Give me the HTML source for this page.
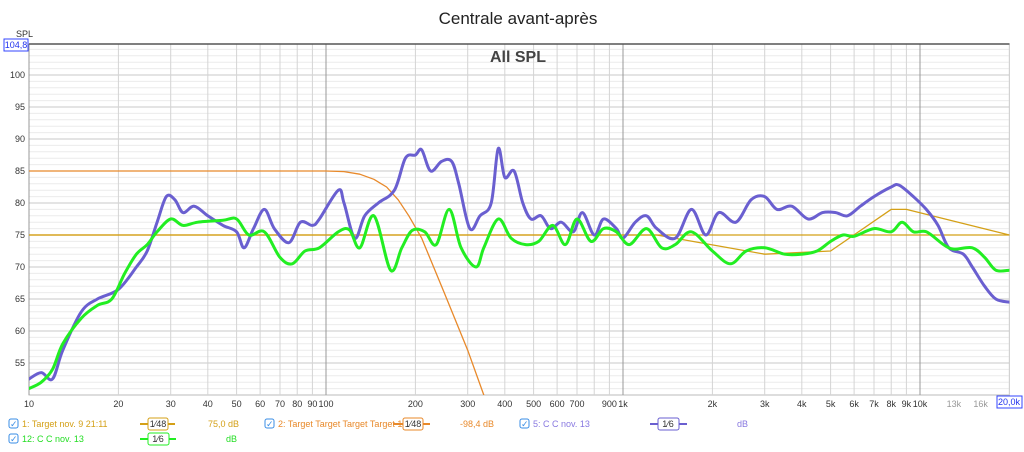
<!DOCTYPE html>
<html><head><meta charset="utf-8"><style>
body{margin:0;background:#fff;font-family:"Liberation Sans",sans-serif;}
svg text{font-family:"Liberation Sans",sans-serif;}
</style></head><body>
<svg id="chart" width="1024" height="447" xmlns="http://www.w3.org/2000/svg">
<text x="518" y="24" font-size="17" text-anchor="middle" fill="#222">Centrale avant-après</text>
<text x="16" y="37" font-size="9" fill="#333">SPL</text>
<rect x="4" y="39" width="24" height="12" fill="#fff" stroke="#3344ff"/>
<text x="16" y="48" font-size="9" fill="#2233ee" text-anchor="middle">104,8</text>
<g id="grid"></g><g id="series"></g><g id="axes"></g>
<text x="518" y="62" font-size="16" font-weight="bold" text-anchor="middle" fill="#444">All SPL</text>
<rect x="997" y="396" width="25" height="12" fill="#fff" stroke="#3344ff"/>
<text x="1009" y="405" font-size="9" fill="#2233ee" text-anchor="middle">20,0k</text>
<g font-size="9">
 <g>
  <rect x="9" y="419" width="9" height="9" rx="2" fill="#fff" stroke="#3a8ee6"/><text x="10" y="427" fill="#3a8ee6" font-size="9">✓</text>
  <text x="22" y="427" fill="#d4a017">1: Target nov. 9 21:11</text>
  <line x1="140" y1="424" x2="175" y2="424" stroke="#d4a017" stroke-width="2"/><rect x="148" y="418" width="20" height="12" rx="2" fill="#fff" stroke="#d4a017"/><text x="158" y="427" text-anchor="middle" fill="#333">1⁄48</text>
  <text x="208" y="427" fill="#d4a017">75,0 dB</text></g>
 <g>
  <rect x="265" y="419" width="9" height="9" rx="2" fill="#fff" stroke="#3a8ee6"/><text x="266" y="427" fill="#3a8ee6">✓</text>
  <text x="278" y="427" fill="#e8892a">2: Target Target Target Target 1</text>
  <line x1="393" y1="424" x2="430" y2="424" stroke="#e8892a" stroke-width="2"/><rect x="403" y="418" width="20" height="12" rx="2" fill="#fff" stroke="#e8892a"/><text x="413" y="427" text-anchor="middle" fill="#333">1⁄48</text>
  <text x="460" y="427" fill="#e8892a">-98,4 dB</text></g>
 <g>
  <rect x="520" y="419" width="9" height="9" rx="2" fill="#fff" stroke="#3a8ee6"/><text x="521" y="427" fill="#3a8ee6">✓</text>
  <text x="533" y="427" fill="#8878e0">5: C C nov. 13</text>
  <line x1="650" y1="424" x2="687" y2="424" stroke="#6a5fd0" stroke-width="2"/><rect x="658" y="418" width="21" height="12" rx="2" fill="#fff" stroke="#6a5fd0"/><text x="668" y="427" text-anchor="middle" fill="#333">1⁄6</text>
  <text x="737" y="427" fill="#8878e0">dB</text></g>
 <g>
  <rect x="9" y="434" width="9" height="9" rx="2" fill="#fff" stroke="#3a8ee6"/><text x="10" y="442" fill="#3a8ee6">✓</text>
  <text x="22" y="442" fill="#22dd22">12: C C nov. 13</text>
  <line x1="140" y1="439" x2="176" y2="439" stroke="#22ee22" stroke-width="2"/><rect x="148" y="433" width="21" height="12" rx="2" fill="#fff" stroke="#22ee22"/><text x="158" y="442" text-anchor="middle" fill="#333">1⁄6</text>
  <text x="226" y="442" fill="#22dd22">dB</text></g>
</g>
</svg>
<script>
const xTickFreqs=[10,20,30,40,50,60,70,80,90,100,200,300,400,500,600,700,900,1000,2000,3000,4000,5000,6000,7000,8000,9000,10000,13000,16000];
const xTickLabels=["10","20","30","40","50","60","70","80","90","100","200","300","400","500","600","700","900","1k","2k","3k","4k","5k","6k","7k","8k","9k","10k","13k","16k"];
const yTickValues=[55,60,65,70,75,80,85,90,95,100];
const blueFreq=[10,11,12,13,15,17,20,23,25,27,29,31,33,36,40,45,50,53,57,62,67,75,82,90,95,110,115,125,135,150,170,185,200,210,225,245,265,280,305,330,360,380,400,430,460,490,530,570,620,680,730,800,860,950,1000,1100,1200,1300,1500,1700,1900,2100,2400,2700,3000,3300,3700,4200,4700,5200,5700,6300,7000,8000,8500,9500,10500,11500,12500,14000,15000,16500,18000,20000];
const blueDb=[52.5,53.5,52.5,57,63,65,66.5,70,72.5,77,81,80.5,78.5,79.5,78,76.5,75.5,73,76,79,76,73.8,77,76.5,77.5,82,80,74.5,78,80,82,87,87.5,88.3,85,86.5,86.5,83,76,78,80,88.5,84,85,80,77.5,78,76,77,75.5,78.5,75,77.5,76,74.5,77,78,76,74.5,79,75,78.5,77,80.5,81,79,79.5,77.5,78.5,78.5,78,79.5,81,82.5,82.8,81,79,76.5,73,72,70,67,65,64.5];
const greenFreq=[10,11,12,13,15,17,19,21,23,25,27,30,33,37,45,50,55,62,70,77,85,95,110,120,130,145,165,180,195,215,235,260,285,320,340,380,420,470,520,580,640,700,780,860,950,1050,1200,1350,1500,1700,2000,2300,2600,3000,3500,4000,4500,5000,5500,6000,7000,8000,8700,9500,10500,12000,13000,15000,16500,18000,20000];
const greenDb=[51,52,54,58,62,64,65,69,72,73.5,75.5,77.5,76.5,77,77.3,77.5,75,75.5,71.5,70.5,72.5,73,75.5,75.8,73,78,69.5,73,75.7,75.5,73.5,79,73,70,73,77.5,74.5,73.5,74,76.5,73.5,77.5,74,76,75.5,73.5,76,73,73.5,75.5,72.5,70.5,72.5,73,72,72,72.5,74,75,74.8,76,75.5,77,75.5,75.5,73.5,72.8,73,71.5,69.5,69.5];
const target1Freq=[10,1300,3000,5000,8000,9000,20000];
const target1Db=[75,75,72,72.5,79,79,75];
const target2Freq=[10,100,115,130,145,160,175,190,210,250,300,340];
const target2Db=[85,85,84.9,84.5,83.7,82.5,80.5,78,74.5,66,57,50];
const refLevelDb=75;

const X0=29,DEC=297,Y75=235,PX=6.4,YTOP=44,YBOT=395;
const xs=f=>X0+Math.log10(f/10)*DEC;
const ys=v=>Y75-(v-75)*PX;
const NS="http://www.w3.org/2000/svg";
function mk(p,t,a){const e=document.createElementNS(NS,t);for(const k in a)e.setAttribute(k,a[k]);p.appendChild(e);return e;}
const grid=document.getElementById('grid'),axes=document.getElementById('axes'),ser=document.getElementById('series');
const plot=mk(grid,'rect',{x:X0,y:YTOP,width:xs(20000)-X0,height:YBOT-YTOP,fill:'#fff',stroke:'#bbb'});


for(let v=51;v<=104;v++){mk(grid,'line',{x1:X0,x2:xs(20000),y1:ys(v),y2:ys(v),stroke:v%5===0?'#c8c8c8':'#ebebeb','stroke-width':1});}
for(let d=10;d<20000;d*=10){for(let m=1;m<10;m++){const f=d*m;if(f>20000)break;mk(grid,'line',{x1:xs(f),x2:xs(f),y1:YTOP,y2:YBOT,stroke:m===1?'#999':'#d4d4d4','stroke-width':1});}}
mk(grid,'line',{x1:X0,x2:xs(20000),y1:YTOP,y2:YTOP,stroke:'#555','stroke-width':1.5});
yTickValues.forEach(v=>{const t=mk(axes,'text',{x:X0-4,y:ys(v)+3,'font-size':9,'text-anchor':'end',fill:'#333'});t.textContent=v;

});
xTickFreqs.forEach((f,i)=>{const t=mk(axes,'text',{x:xs(f),y:407,'font-size':9,'text-anchor':'middle',fill:(f===13000||f===16000)?'#999':'#333'});t.textContent=xTickLabels[i];

});
const clip=mk(ser,'clipPath',{id:'cp'});mk(clip,'rect',{x:X0,y:YTOP,width:xs(20000)-X0,height:YBOT-YTOP});
function smoothPath(P){let d='M'+P[0][0].toFixed(1)+','+P[0][1].toFixed(1);
for(let i=0;i<P.length-1;i++){const p0=P[Math.max(0,i-1)],p1=P[i],p2=P[i+1],p3=P[Math.min(P.length-1,i+2)];
const c1x=p1[0]+(p2[0]-p0[0])/6,c1y=p1[1]+(p2[1]-p0[1])/6,c2x=p2[0]-(p3[0]-p1[0])/6,c2y=p2[1]-(p3[1]-p1[1])/6;
d+=' C'+c1x.toFixed(1)+','+c1y.toFixed(1)+' '+c2x.toFixed(1)+','+c2y.toFixed(1)+' '+p2[0].toFixed(1)+','+p2[1].toFixed(1);}return d;}
function line(F,D,col,w,name,smooth){const P=F.map((f,i)=>[xs(f),ys(D[i])]);
const p=mk(ser,'path',{d:smooth?smoothPath(P):'M'+P.map(q=>q[0].toFixed(1)+','+q[1].toFixed(1)).join(' L'),fill:'none',stroke:col,'stroke-width':w,'stroke-linejoin':'round','stroke-linecap':'round','clip-path':'url(#cp)'});

}
const ref=mk(ser,'line',{x1:X0,x2:xs(20000),y1:ys(refLevelDb),y2:ys(refLevelDb),stroke:'#d4a017','stroke-width':1.3});


line(target1Freq,target1Db,'#d4a017',1.3,'target-1-curve',false);
line(target2Freq,target2Db,'#e8892a',1.3,'target-2-curve',false);
line(blueFreq,blueDb,'#6a5fd0',3,'cc-5-curve',true);
line(greenFreq,greenDb,'#22ee22',3,'cc-12-curve',true);
</script>
</body></html>
